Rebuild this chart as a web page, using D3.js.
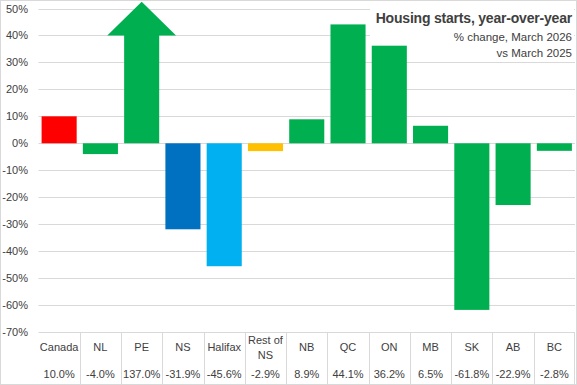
<!DOCTYPE html>
<html>
<head>
<meta charset="utf-8">
<script src="https://cdn.jsdelivr.net/npm/d3@7"></script>
<style>
  html, body { margin: 0; padding: 0; background: #fff; }
  svg { display: block; }
  text { font-family: "Liberation Sans", Arial, sans-serif; fill: #404040; }
</style>
</head>
<body>
<svg id="chart" width="577" height="385"></svg>
<script>
// ---- Data ----
const categories = ["Canada", "NL", "PE", "NS", "Halifax", "Rest of NS", "NB", "QC", "ON", "MB", "SK", "AB", "BC"];
const categoryLines = [["Canada"], ["NL"], ["PE"], ["NS"], ["Halifax"], ["Rest of", "NS"], ["NB"], ["QC"], ["ON"], ["MB"], ["SK"], ["AB"], ["BC"]];
const values = [10.0, -4.0, 137.0, -31.9, -45.6, -2.9, 8.9, 44.1, 36.2, 6.5, -61.8, -22.9, -2.8];
const yTicks = [50, 40, 30, 20, 10, 0, -10, -20, -30, -40, -50, -60, -70];
const titleText = "Housing starts, year-over-year";
const subtitleLines = ["% change, March 2026", "vs March 2025"];

// ---- Styles ----
const barColors = {
  "Canada": "#FF0000",
  "NS": "#0070C0",
  "Halifax": "#00B0F0",
  "Rest of NS": "#FFC000"
};
const defaultColor = "#00B050";
const gridColor = "#d9d9d9";

const svg = d3.select("#chart");
const W = 577, H = 385;
const plotLeft = 38.5, plotRight = 575;

// outer border
svg.append("rect").attr("x", 0.5).attr("y", 0.5).attr("width", W - 1).attr("height", H - 1)
  .attr("fill", "#fff").attr("stroke", gridColor);

const y = d3.scaleLinear().domain([-70, 50]).range([332, 8.5]);
const x = d3.scaleBand().domain(categories).range([plotLeft, plotRight])
  .paddingInner(0.15).paddingOuter(0.075);
const xCol = d3.scaleBand().domain(categories).range([plotLeft, plotRight]).padding(0);

// gridlines
svg.append("g").selectAll("line").data(yTicks).join("line")
  .attr("x1", plotLeft).attr("x2", plotRight)
  .attr("y1", d => Math.round(y(d)) + 0.5).attr("y2", d => Math.round(y(d)) + 0.5)
  .attr("stroke", gridColor).attr("stroke-width", 1);

// y axis labels
const yAxis = d3.axisLeft(y).tickValues(yTicks).tickFormat(d => d + "%").tickSize(0).tickPadding(0);
const yg = svg.append("g").attr("transform", "translate(28,0)").call(yAxis);
yg.select(".domain").remove();
yg.selectAll("text").attr("font-size", 11).style("font-family", "'Liberation Sans', Arial, sans-serif").attr("fill", "#404040");

// title box background (sits above gridlines, below bars)
svg.append("rect").attr("x", 370).attr("y", 4).attr("width", 204).attr("height", 54).attr("fill", "#fff");

// bars
const yMax = y.domain()[1];
const arrowBase = 40, arrowTip = 52.5;
const normal = categories.map((c, i) => ({ c, v: values[i] })).filter(d => d.v <= yMax);
const over = categories.map((c, i) => ({ c, v: values[i] })).filter(d => d.v > yMax);

svg.append("g").selectAll("rect").data(normal).join("rect")
  .attr("x", d => x(d.c))
  .attr("width", x.bandwidth())
  .attr("y", d => y(Math.max(0, d.v)))
  .attr("height", d => Math.abs(y(d.v) - y(0)))
  .attr("fill", d => barColors[d.c] || defaultColor);

// arrow for values beyond the axis
svg.append("g").selectAll("path").data(over).join("path")
  .attr("d", d => {
    const x0 = x(d.c), x1 = x(d.c) + x.bandwidth(), cx = x(d.c) + x.bandwidth() / 2;
    const hw = x.bandwidth() * 0.98;
    const p = d3.path();
    p.moveTo(x0, y(0));
    p.lineTo(x0, y(arrowBase));
    p.lineTo(cx - hw, y(arrowBase));
    p.lineTo(cx, y(arrowTip));
    p.lineTo(cx + hw, y(arrowBase));
    p.lineTo(x1, y(arrowBase));
    p.lineTo(x1, y(0));
    p.closePath();
    return p.toString();
  })
  .attr("fill", d => barColors[d.c] || defaultColor);

// title text
const tb = svg.append("g");
tb.append("text").attr("x", 572).attr("y", 23).attr("text-anchor", "end")
  .attr("font-size", 14).attr("font-weight", "bold").attr("fill", "#000")
  .attr("letter-spacing", -0.2)
  .style("font-family", "'Liberation Sans Narrow', 'Arial Narrow', 'Liberation Sans', sans-serif")
  .text(titleText);
tb.selectAll("text.sub").data(subtitleLines).join("text").attr("class", "sub")
  .attr("x", 572).attr("y", (d, i) => 41 + i * 16).attr("text-anchor", "end")
  .attr("font-size", 11.5).attr("fill", "#000").text(d => d);

// data table
const tTop = y(-70), tBot = H - 1;
const tg = svg.append("g");
tg.selectAll("line.v").data(categories.slice(1).concat(["__end"])).join("line").attr("class", "v")
  .attr("x1", d => d === "__end" ? plotRight - 0.5 : Math.round(xCol(d)) + 0.5)
  .attr("x2", d => d === "__end" ? plotRight - 0.5 : Math.round(xCol(d)) + 0.5)
  .attr("y1", tTop).attr("y2", tBot).attr("stroke", gridColor);

const cat = tg.selectAll("text.cat").data(categories).join("text").attr("class", "cat")
  .attr("text-anchor", "middle").attr("font-size", 11);
cat.each(function(d, i) {
  const lines = categoryLines[i];
  const cx = xCol(d) + xCol.bandwidth() / 2;
  const base = lines.length === 1 ? 351 : 344;
  d3.select(this).selectAll("tspan").data(lines).join("tspan")
    .attr("x", cx).attr("y", (l, j) => base + j * 15).text(l => l);
});
tg.selectAll("text.val").data(values).join("text").attr("class", "val")
  .attr("text-anchor", "middle").attr("font-size", 11)
  .attr("x", (d, i) => xCol(categories[i]) + xCol.bandwidth() / 2)
  .attr("y", 378)
  .text(d => d.toFixed(1) + "%");
</script>
</body>
</html>
